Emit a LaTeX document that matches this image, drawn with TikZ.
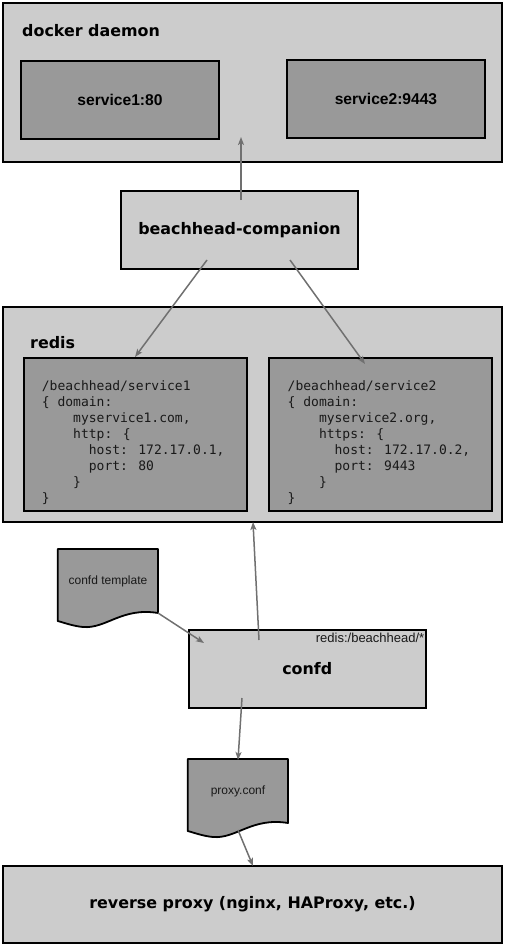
\documentclass[tikz,border=0pt]{standalone}
\usepackage{fontspec}
\setmainfont{Liberation Sans}
\newfontfamily\dv{DejaVu Sans}
\newfontfamily\dvmono{DejaVu Sans Mono}
\usetikzlibrary{arrows.meta}
\definecolor{boxlight}{HTML}{CCCCCC}
\definecolor{boxdark}{HTML}{999999}
\definecolor{arrowgray}{HTML}{707070}
\tikzset{
  outerbox/.style={draw=black, line width=1.8pt, fill=boxlight, rectangle, inner sep=0pt, font=\dv\bfseries\fontsize{15.9}{18}\selectfont},
  innerbox/.style={draw=black, line width=1.8pt, fill=boxdark, rectangle, inner sep=0pt},
  svclabel/.style={font=\bfseries\fontsize{15.6}{18}\selectfont},
  grouplabel/.style={anchor=west, inner sep=0pt, font=\dv\bfseries\fontsize{15.9}{18}\selectfont},
  codetext/.style={anchor=north west, inner sep=0pt, align=left, font=\dvmono\fontsize{13}{16}\selectfont, text=black!90},
  doclabel/.style={inner sep=0pt, font=\fontsize{12}{14}\selectfont, text=black!90},
  docshape/.style={draw=black, line width=1.8pt, fill=boxdark, line join=round},
  conn/.style={draw=arrowgray, line width=1.5pt, -{Stealth[length=8pt,width=6pt,inset=2pt]}},
}
\begin{document}
\begin{tikzpicture}[x=1pt,y=-1pt]
\useasboundingbox (0,0) rectangle (506,947);

% docker daemon
\node[outerbox, minimum width=499pt, minimum height=159pt] (docker) at (252.5,82.5) {};
\node[grouplabel] (dockerlbl) at (22,31) {docker daemon};
\node[innerbox, svclabel, minimum width=198pt, minimum height=78pt] (svc1) at (120,100) {service1:80};
\node[innerbox, svclabel, minimum width=198pt, minimum height=78pt] (svc2) at (386,99) {service2:9443};

% companion
\node[outerbox, minimum width=237pt, minimum height=78pt] (comp) at (239.5,230) {beachhead-companion};

% redis
\node[outerbox, minimum width=499pt, minimum height=215pt] (redis) at (252.5,414.5) {};
\node[grouplabel] (redislbl) at (30,342.5) {redis};
\node[innerbox, minimum width=222.7pt, minimum height=153.3pt] (key1) at (135.3,434.3) {};
\node[innerbox, minimum width=223pt, minimum height=153.3pt] (key2) at (380.2,434.3) {};
\node[codetext] (code1) at (41.7,380) {/beachhead/service1\\
\{ domain:\\
\phantom{0000}myservice1.com,\\
\phantom{0000}http: \{\\
\phantom{000000}host: 172.17.0.1,\\
\phantom{000000}port: 80\\
\phantom{0000}\}\\
\}};
\node[codetext] (code2) at (287.5,380) {/beachhead/service2\\
\{ domain:\\
\phantom{0000}myservice2.org,\\
\phantom{0000}https: \{\\
\phantom{000000}host: 172.17.0.2,\\
\phantom{000000}port: 9443\\
\phantom{0000}\}\\
\}};

% confd template document
\path[docshape] (57.7,549) -- (158,549) -- (158,613)
  .. controls (122,607) and (106,629) .. (83,627)
  .. controls (73,626) and (65,623) .. (57.7,621) -- cycle;
\node[doclabel] (tmpl) at (108,581) {confd template};

% confd
\node[outerbox, minimum width=237.3pt, minimum height=77.7pt] (confd) at (307.3,668.8) {confd};
\node[doclabel, anchor=east, font=\fontsize{13}{15}\selectfont] (confdlbl) at (424.5,637.5) {redis:/beachhead/*};

% proxy.conf document
\begin{scope}[shift={(130,210)}]
\path[docshape] (57.7,549) -- (158,549) -- (158,613)
  .. controls (122,607) and (106,629) .. (83,627)
  .. controls (73,626) and (65,623) .. (57.7,621) -- cycle;
\end{scope}
\node[doclabel] (pconf) at (238,791) {proxy.conf};

% reverse proxy
\node[outerbox, minimum width=499pt, minimum height=77pt] (rproxy) at (252.5,904.5) {reverse proxy (nginx, HAProxy, etc.)};

% connector end points
\coordinate (compTop) at (241,200);
\coordinate (dockerIn) at (241,137);
\coordinate (compL) at (207,260);
\coordinate (key1Top) at (135,357);
\coordinate (compR) at (290,260);
\coordinate (key2In) at (365,364);
\coordinate (confdTop) at (259,640);
\coordinate (redisBot) at (253,522);
\coordinate (tmplOut) at (158,613);
\coordinate (confdIn) at (204,643);
\coordinate (confdBot) at (242,698);
\coordinate (pconfTop) at (238,760);
\coordinate (pconfOut) at (238,830);
\coordinate (rproxyTop) at (253,866);

\draw[conn] (compTop) -- (dockerIn);
\draw[conn] (compL) -- (key1Top);
\draw[conn] (compR) -- (key2In);
\draw[conn] (confdTop) -- (redisBot);
\draw[conn] (tmplOut) -- (confdIn);
\draw[conn] (confdBot) -- (pconfTop);
\draw[conn] (pconfOut) -- (rproxyTop);
\end{tikzpicture}
\end{document}
